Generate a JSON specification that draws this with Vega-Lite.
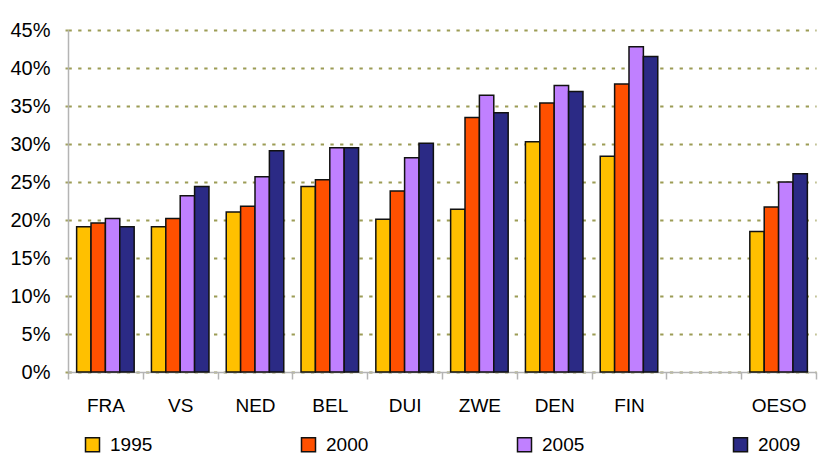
{
  "$schema": "https://vega.github.io/schema/vega-lite/v6.json",
  "autosize": "none",
  "width": 748,
  "height": 342,
  "padding": {"left": 68, "top": 30, "right": 4, "bottom": 86},
  "background": "white",
  "config": {
    "view": {"stroke": null},
    "font": "Liberation Sans"
  },
  "data": {
    "values": [
      {"land": "FRA", "jaar": "1995", "waarde": 0.191},
      {"land": "FRA", "jaar": "2000", "waarde": 0.196},
      {"land": "FRA", "jaar": "2005", "waarde": 0.202},
      {"land": "FRA", "jaar": "2009", "waarde": 0.191},
      {"land": "VS", "jaar": "1995", "waarde": 0.191},
      {"land": "VS", "jaar": "2000", "waarde": 0.202},
      {"land": "VS", "jaar": "2005", "waarde": 0.232},
      {"land": "VS", "jaar": "2009", "waarde": 0.244},
      {"land": "NED", "jaar": "1995", "waarde": 0.2105},
      {"land": "NED", "jaar": "2000", "waarde": 0.218},
      {"land": "NED", "jaar": "2005", "waarde": 0.257},
      {"land": "NED", "jaar": "2009", "waarde": 0.291},
      {"land": "BEL", "jaar": "1995", "waarde": 0.244},
      {"land": "BEL", "jaar": "2000", "waarde": 0.253},
      {"land": "BEL", "jaar": "2005", "waarde": 0.295},
      {"land": "BEL", "jaar": "2009", "waarde": 0.295},
      {"land": "DUI", "jaar": "1995", "waarde": 0.201},
      {"land": "DUI", "jaar": "2000", "waarde": 0.238},
      {"land": "DUI", "jaar": "2005", "waarde": 0.282},
      {"land": "DUI", "jaar": "2009", "waarde": 0.301},
      {"land": "ZWE", "jaar": "1995", "waarde": 0.214},
      {"land": "ZWE", "jaar": "2000", "waarde": 0.335},
      {"land": "ZWE", "jaar": "2005", "waarde": 0.364},
      {"land": "ZWE", "jaar": "2009", "waarde": 0.341},
      {"land": "DEN", "jaar": "1995", "waarde": 0.303},
      {"land": "DEN", "jaar": "2000", "waarde": 0.354},
      {"land": "DEN", "jaar": "2005", "waarde": 0.377},
      {"land": "DEN", "jaar": "2009", "waarde": 0.369},
      {"land": "FIN", "jaar": "1995", "waarde": 0.284},
      {"land": "FIN", "jaar": "2000", "waarde": 0.379},
      {"land": "FIN", "jaar": "2005", "waarde": 0.428},
      {"land": "FIN", "jaar": "2009", "waarde": 0.415},
      {"land": "OESO", "jaar": "1995", "waarde": 0.185},
      {"land": "OESO", "jaar": "2000", "waarde": 0.217},
      {"land": "OESO", "jaar": "2005", "waarde": 0.250},
      {"land": "OESO", "jaar": "2009", "waarde": 0.261}
    ]
  },
  "mark": {"type": "bar", "stroke": "#111111", "strokeWidth": 1.5},
  "encoding": {
    "x": {
      "field": "land",
      "type": "nominal",
      "sort": null,
      "scale": {"domain": ["FRA", "VS", "NED", "BEL", "DUI", "ZWE", "DEN", "FIN", " ", "OESO"], "paddingInner": 0, "paddingOuter": 0},
      "axis": {
        "title": null,
        "labelAngle": 0,
        "labelFont": "Liberation Sans",
        "labelFontSize": 19,
        "labelColor": "#000000",
        "labelPadding": 17,
        "tickBand": "extent",
        "tickSize": 7,
        "tickColor": "#b4b4b4",
        "tickWidth": 1.5,
        "domainColor": "#b4b4b4",
        "domainWidth": 1.5,
        "grid": false
      }
    },
    "xOffset": {
      "field": "jaar",
      "type": "nominal",
      "scale": {"paddingInner": 0, "paddingOuter": 0.6}
    },
    "y": {
      "field": "waarde",
      "type": "quantitative",
      "scale": {"domain": [0, 0.45], "nice": false},
      "axis": {
        "title": null,
        "values": [0, 0.05, 0.1, 0.15, 0.2, 0.25, 0.3, 0.35, 0.4, 0.45],
        "format": ".0%",
        "labelFont": "Liberation Sans",
        "labelFontSize": 20,
        "labelColor": "#000000",
        "labelPadding": 12,
        "tickSize": 6,
        "tickColor": "#a0a060",
        "tickWidth": 2,
        "tickDash": [3, 6.7],
        "domainColor": "#b4b4b4",
        "domainWidth": 1.5,
        "grid": true,
        "gridColor": "#9c9c55",
        "gridWidth": 2,
        "gridDash": [3.3, 6.4]
      }
    },
    "color": {
      "field": "jaar",
      "type": "nominal",
      "scale": {"domain": ["1995", "2000", "2005", "2009"], "range": ["#FFC000", "#FF5000", "#C080FF", "#2B2A85"]},
      "legend": {
        "title": null,
        "orient": "none",
        "legendX": 15,
        "legendY": 405,
        "direction": "horizontal",
        "columns": 4,
        "columnPadding": 145,
        "symbolType": "square",
        "symbolSize": 196,
        "symbolStrokeColor": "#111111",
        "symbolStrokeWidth": 1.5,
        "symbolOpacity": 1,
        "labelFont": "Liberation Sans",
        "labelFontSize": 19,
        "labelColor": "#000000",
        "labelOffset": 8
      }
    }
  }
}
